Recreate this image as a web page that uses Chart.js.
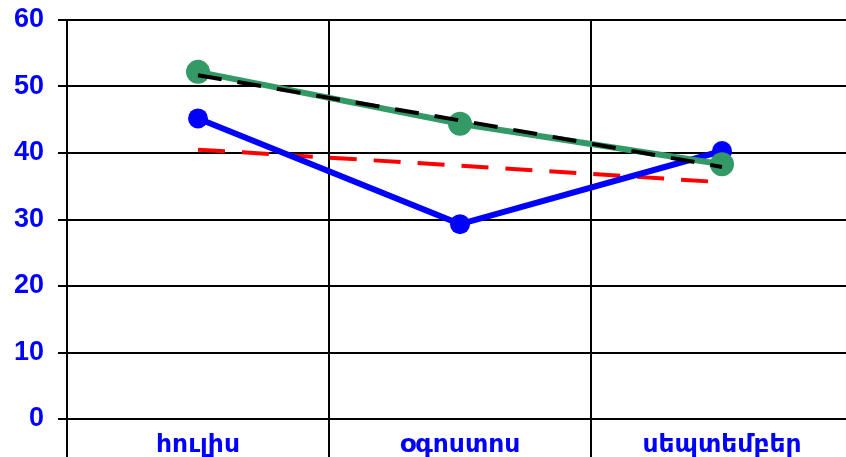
<!DOCTYPE html>
<html>
<head>
<meta charset="utf-8">
<script src="https://cdn.jsdelivr.net/npm/chart.js@4"></script>
<style>
  html, body { margin: 0; padding: 0; overflow: hidden; background: #fff; }
  #wrap { width: 865px; height: 457px; position: relative; }
</style>
</head>
<body>
<div id="wrap"><canvas id="chart"></canvas></div>
<script>
// Data
const months = ['հուլիս', 'օգոստոս', 'սեպտեմբեր'];
const blueSeries = [45.2, 29.3, 40.3];
const greenSeries = [52.2, 44.4, 38.3];
const blueTrend = [40.5, 38.1, 35.6];
const greenTrend = [51.7, 44.9, 37.9];
const yTicks = [0, 10, 20, 30, 40, 50, 60];

const fam = "Arial, 'Liberation Sans', 'DejaVu Sans', 'Noto Sans'";

new Chart(document.getElementById('chart'), {
  type: 'line',
  data: {
    labels: months,
    datasets: [
      {
        data: greenTrend,
        borderColor: '#000',
        borderWidth: 4,
        borderDash: [24, 16],
        pointRadius: 0,
        order: 0
      },
      {
        data: greenSeries,
        borderColor: '#339966',
        backgroundColor: '#339966',
        borderWidth: 6,
        pointRadius: 12,
        pointBorderWidth: 0,
        order: 1
      },
      {
        data: blueSeries,
        borderColor: '#0000ff',
        backgroundColor: '#0000ff',
        borderWidth: 6,
        pointRadius: 10,
        pointBorderWidth: 0,
        order: 2
      },
      {
        data: blueTrend,
        borderColor: '#ff0000',
        borderWidth: 4,
        borderDash: [27, 17],
        pointRadius: 0,
        order: 3
      }
    ]
  },
  options: {
    responsive: true,
    maintainAspectRatio: false,
    animation: false,
    events: [],
    layout: { padding: { top: 20, right: 0, left: 0, bottom: 0 } },
    plugins: { legend: { display: false }, tooltip: { enabled: false } },
    scales: {
      x: {
        offset: true,
        grid: { offset: true, color: '#000', lineWidth: 2, tickLength: 38 },
        border: { display: false },
        ticks: { color: '#0000ff', font: { family: fam, size: 25, weight: 'bold' }, padding: -27, maxRotation: 0 },
        afterFit: s => { s.height = 38; }
      },
      y: {
        min: 0,
        max: 60,
        afterBuildTicks: s => { s.ticks = yTicks.map(v => ({ value: v })); },
        grid: { color: '#000', lineWidth: 2, tickLength: 9 },
        border: { color: '#000', width: 2 },
        ticks: { color: '#0000ff', font: { family: fam, size: 27, weight: 'bold' }, padding: 14 },
        afterFit: s => { s.width = 67; s.paddingTop = 0; s.paddingBottom = 0; }
      }
    }
  }
});
</script>
</body>
</html>
